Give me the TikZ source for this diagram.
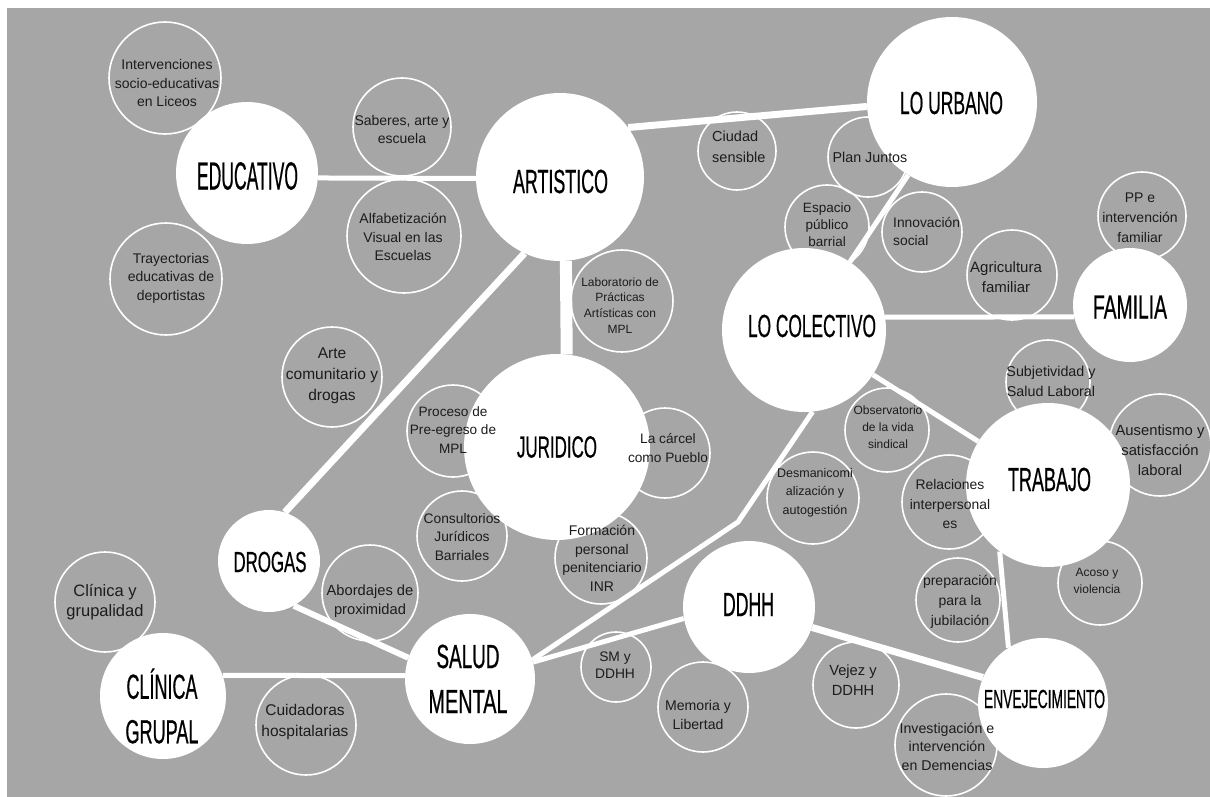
\documentclass[tikz,border=0pt]{standalone}
\usepackage{fontspec}
\setmainfont{Liberation Sans}
\newfontfamily\bigfont[FakeStretch=0.55,FakeBold=0.5]{Liberation Sans}
\definecolor{bggray}{RGB}{166,166,166}
\definecolor{ink}{RGB}{28,28,28}
\pgfdeclarelayer{bg}
\pgfdeclarelayer{subl}
\pgfdeclarelayer{links}
\pgfdeclarelayer{toptext}
\pgfsetlayers{bg,subl,links,main,toptext}
\newcommand\bl[3]{\resizebox{#1pt}{#2pt}{\bigfont\raisebox{0pt}[\fontcharht\font`\E][0pt]{#3}}}
\newcommand\fsz[2]{\fontsize{#1}{#2}\selectfont}
\tikzset{
  bigc/.style={circle, fill=white, inner sep=0pt, minimum size={2*#1pt}},
  subc/.style={circle, draw=white, line width=1.6pt, inner sep=0pt, minimum size={2*#1pt}},
  subt/.style={align=center, text=ink, inner sep=0pt},
  bigt/.style={text=black, inner sep=0pt},
  link/.style={draw=white, line width=#1},
  link/.default=5pt
}
\begin{document}
\begin{tikzpicture}[x=1pt,y=-1pt]
\useasboundingbox (0,0) rectangle (1210,797);
\begin{pgfonlayer}{bg}
\fill[white] (0,0) rectangle (1210,797);
\fill[bggray] (7,8) rectangle (1210,797);
\end{pgfonlayer}

% small topic circles
\begin{pgfonlayer}{subl}
\node[subc=56] (s1) at (165,78) {};
\node[subc=56] (s2) at (166,279) {};
\node[subc=49] (s3) at (402,127) {};
\node[subc=57] (s4) at (404,236) {};
\node[subc=39] (s5) at (737,151) {};
\node[subc=40] (s6) at (868,157) {};
\node[subc=42] (s7) at (827,227) {};
\node[subc=40] (s8) at (922,232) {};
\node[subc=45] (s9) at (1012,275) {};
\node[subc=44] (s10) at (1142,216) {};
\node[subc=51] (s11) at (622,301) {};
\node[subc=50] (s12) at (332,377) {};
\node[subc=46] (s13) at (453,431) {};
\node[subc=45] (s14) at (665,453) {};
\node[subc=45] (s15) at (462,536) {};
\node[subc=46] (s16) at (601,558) {};
\node[subc=46] (s17) at (813,498) {};
\node[subc=42] (s18) at (887,430) {};
\node[subc=42] (s19) at (1048,382) {};
\node[subc=51] (s20) at (1160,445) {};
\node[subc=47] (s21) at (949,502) {};
\node[subc=42] (s22) at (1100,583) {};
\node[subc=42] (s23) at (958,600) {};
\node[subc=43] (s24) at (856,685) {};
\node[subc=51] (s25) at (946,745) {};
\node[subc=35] (s26) at (616,667) {};
\node[subc=45] (s27) at (703,707) {};
\node[subc=48] (s28) at (370,593) {};
\node[subc=50] (s29) at (105,602) {};
\node[subc=50] (s30) at (306,725) {};
\end{pgfonlayer}

% main circles
\node[bigc=71] (edu) at (247,173) {};
\node[bigc=84] (art) at (560,177) {};
\node[bigc=85] (urb) at (952,102) {};
\node[bigc=82] (col) at (804,330) {};
\node[bigc=57] (fam) at (1130,305) {};
\node[bigc=82] (tra) at (1048,485) {};
\node[bigc=93] (jur) at (557,447) {};
\node[bigc=51] (dro) at (269,561) {};
\node[bigc=65] (sal) at (470,679) {};
\node[bigc=63] (cli) at (163,696) {};
\node[bigc=66] (ddh) at (749,607) {};
\node[bigc=65] (env) at (1043,703) {};
\coordinate (bend) at (738,522);

% connectors
\begin{pgfonlayer}{links}
\draw[link] (edu.-4) -- (art.181);
\draw[link=7pt] (art.36) -- (urb.183);
\draw[link=12pt] (art.-86) -- (jur.84);
\draw[link=7pt] (art.245) -- (dro.72);
\draw[link] (urb.239) -- (col.56);
\draw[link] (col.9) -- (fam.192);
\draw[link] (col.-33) -- (tra.148);
\draw[link] (col.-84) -- (bend) -- (sal.17);
\draw[link] (ddh.190) -- (sal.15);
\draw[link=6pt] (dro.-61) -- (sal.161);
\draw[link] (cli.19) -- (sal.177);
\draw[link=7pt] (ddh.-18) -- (env.157);
\draw[link] (tra.234) -- (env.122);
\end{pgfonlayer}

% main labels
\node[bigt] (edu-l) at (247.5,176) {\bl{101}{27}{EDUCATIVO}};
\node[bigt] (art-l) at (560.5,181.5) {\bl{95}{23}{ARTISTICO}};
\node[bigt] (urb-l) at (951.5,103) {\bl{103}{22}{LO URBANO}};
\node[bigt] (col-l) at (812,326) {\bl{128}{22}{LO COLECTIVO}};
\node[bigt] (fam-l) at (1130,307) {\bl{74}{23}{FAMILIA}};
\node[bigt] (tra-l) at (1049.5,479.5) {\bl{83}{23}{TRABAJO}};
\node[bigt] (jur-l) at (557,447) {\bl{80}{21}{JURIDICO}};
\node[bigt] (dro-l) at (270,562) {\bl{73}{20}{DROGAS}};
\node[bigt, align=center, font=\fsz{10}{45}] (sal-l) at (468,679) {\bl{63}{23}{SALUD}\\\bl{79}{23}{MENTAL}};
\node[bigt, align=center, font=\fsz{10}{44.5}] (cli-l) at (162,709) {\bl{71}{24}{CLÍNICA}\\\bl{73}{23}{GRUPAL}};
\node[bigt] (ddh-l) at (748.5,604.5) {\bl{51}{23}{DDHH}};
\node[bigt] (env-l) at (1044.5,699) {\bl{121}{18}{ENVEJECIMIENTO}};

% small labels (on top)
\begin{pgfonlayer}{toptext}
\node[subt, font=\fsz{14}{18.5}] (t1) at (167,83) {Intervenciones\\socio-educativas\\en Liceos};
\node[subt, font=\fsz{14}{18.5}] (t2) at (171,278) {Trayectorias\\educativas de\\deportistas};
\node[subt, font=\fsz{14}{18}] (t3) at (402,129) {Saberes, arte y\\escuela};
\node[subt, font=\fsz{14}{18.5}] (t4) at (403,237) {Alfabetización\\Visual en las\\Escuelas};
\node[subt, font=\fsz{14.5}{21}, align=left, anchor=west] (t5) at (712,146.5) {Ciudad\\sensible};
\node[subt, font=\fsz{14.3}{18}] (t6) at (870,157) {Plan Juntos};
\node[subt, font=\fsz{13.5}{17}] (t7) at (827,225) {Espacio\\público\\barrial};
\node[subt, font=\fsz{13.8}{18}, align=left, anchor=west] (t8) at (893,231) {Innovación\\social};
\node[subt, font=\fsz{15}{20.5}] (t9) at (1006,277) {Agricultura\\familiar};
\node[subt, font=\fsz{14}{20}] (t10) at (1140,218) {PP e\\intervención\\familiar};
\node[subt, font=\fsz{12}{15.7}] (t11) at (620,305.5) {Laboratorio de\\Prácticas\\Artísticas con\\MPL};
\node[subt, font=\fsz{15.5}{21}] (t12) at (332,376) {Arte\\comunitario y\\drogas};
\node[subt, font=\fsz{13.6}{18.5}] (t13) at (453,430) {Proceso de\\Pre-egreso de\\MPL};
\node[subt, font=\fsz{13.7}{18.5}] (t14) at (668,448) {La cárcel\\como Pueblo};
\node[subt, font=\fsz{13.8}{18.5}] (t15) at (462,537) {Consultorios\\Jurídicos\\Barriales};
\node[subt, font=\fsz{14}{18.5}] (t16) at (602,558.5) {Formación\\personal\\penitenciario\\INR};
\node[subt, font=\fsz{12.5}{18.5}] (t17) at (815,492.5) {Desmanicomi\\alización y\\autogestión};
\node[subt, font=\fsz{12}{17}] (t18) at (888,427) {Observatorio\\de la vida\\sindical};
\node[subt, font=\fsz{14.3}{20}] (t19) at (1051,381) {Subjetividad y\\Salud Laboral};
\node[subt, font=\fsz{14.8}{20}] (t20) at (1160,450) {Ausentismo y\\satisfacción\\laboral};
\node[subt, font=\fsz{13.9}{19.5}] (t21) at (950,504.5) {Relaciones\\interpersonal\\es};
\node[subt, font=\fsz{12}{17}] (t22) at (1097,580.5) {Acoso y\\violencia};
\node[subt, font=\fsz{14}{20}] (t23) at (960,602) {preparación\\para la\\jubilación};
\node[subt, font=\fsz{14.7}{20}] (t24) at (853,680) {Vejez y\\DDHH};
\node[subt, font=\fsz{14.2}{18.5}] (t25) at (947,746.5) {Investigación e\\intervención\\en Demencias};
\node[subt, font=\fsz{13.8}{17}] (t26) at (615,665.5) {SM y\\DDHH};
\node[subt, font=\fsz{14.1}{18.5}] (t27) at (698,715) {Memoria y\\Libertad};
\node[subt, font=\fsz{14.7}{19}] (t28) at (370,601.5) {Abordajes de\\proximidad};
\node[subt, font=\fsz{16.5}{20}] (t29) at (105,602) {Clínica y\\grupalidad};
\node[subt, font=\fsz{15.5}{21}] (t30) at (305,721.5) {Cuidadoras\\hospitalarias};
\end{pgfonlayer}
\end{tikzpicture}
\end{document}
